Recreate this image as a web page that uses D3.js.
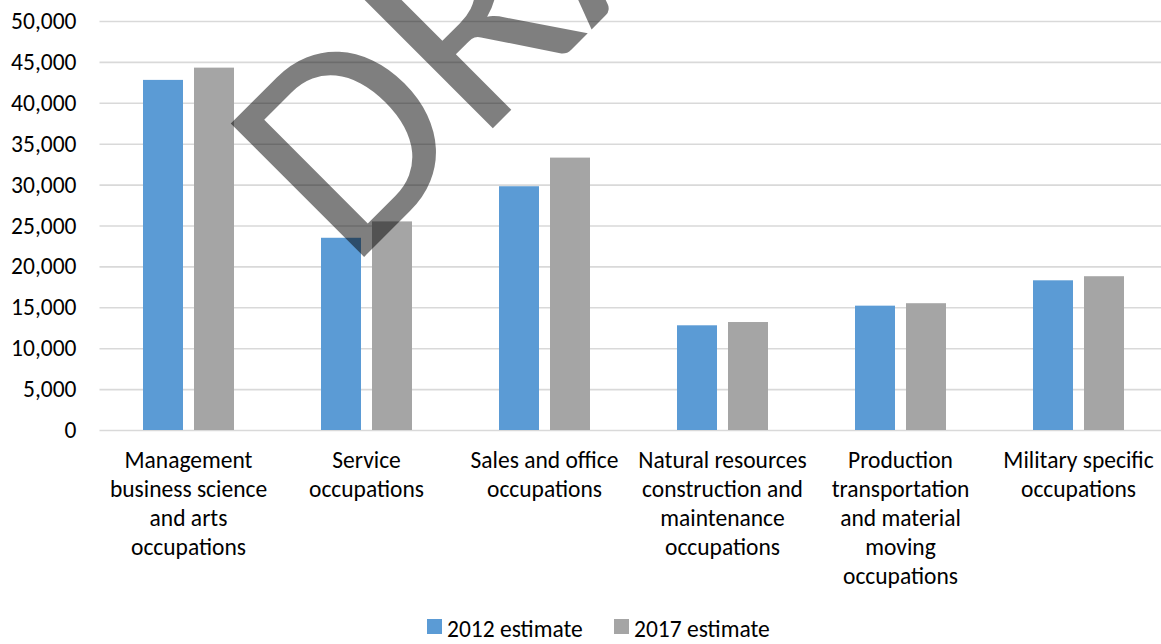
<!DOCTYPE html>
<html>
<head>
<meta charset="utf-8">
<script src="https://cdn.jsdelivr.net/npm/d3@7"></script>
<style>
  html, body { margin: 0; padding: 0; background: #fff; }
  svg { display: block; }
</style>
</head>
<body>
<div id="container"><svg></svg></div>
<script>
// chart values
const categories = ['Management', 'Service', 'Sales', 'Natural', 'Production', 'Military'];
const categoryLabels = [
    ['Management', 'business science', 'and arts', 'occupations'],
    ['Service', 'occupations'],
    ['Sales and office', 'occupations'],
    ['Natural resources', 'construction and', 'maintenance', 'occupations'],
    ['Production', 'transportation', 'and material', 'moving', 'occupations'],
    ['Military specific', 'occupations']
];
const seriesNames = ['2012 estimate', '2017 estimate'];
const est2012 = [42800, 23500, 29800, 12800, 15200, 18300];
const est2017 = [44300, 25500, 33300, 13200, 15500, 18800];
const yTicks = [0, 5000, 10000, 15000, 20000, 25000, 30000, 35000, 40000, 45000, 50000];

let width = 1161;
let height = 644;
let fontFamily = "Carlito, Calibri, Lato, sans-serif";
let fontSize = '23.5px';
let colors = ['#5b9bd5', '#a5a5a5'];

function draw_main() {
    let svg = d3.select('#container').select('svg')
        .attr('width', width)
        .attr('height', height)
        .style('font-family', fontFamily);

    let plotLeft = 99.5;
    let x = d3.scaleBand()
        .domain(categories)
        .range([plotLeft, plotLeft + 6 * 178]);
    let bw = x.bandwidth();
    let x1 = d3.scaleBand()
        .domain(seriesNames)
        .range([bw * 43.5 / 178, bw * 134.5 / 178])
        .paddingInner(0.2157);

    let y = d3.scaleLinear()
        .domain([0, 50000])
        .range([430, 21]);

    // gridlines + y labels
    let axis_y = d3.axisLeft(y)
        .tickValues(yTicks)
        .tickSize(-(width - plotLeft))
        .tickPadding(23)
        .tickFormat(d3.format(','));
    let gy = svg.append('g')
        .attr('transform', `translate(${plotLeft}, 0)`)
        .call(axis_y);
    gy.select('.domain').remove();
    gy.selectAll('line').attr('stroke', '#d9d9d9').attr('stroke-width', 1.6);
    gy.selectAll('text')
        .attr('font-family', fontFamily)
        .attr('font-size', fontSize)
        .attr('fill', '#000');

    // bars
    let rows = categories.map((c, i) => ({ cat: c, vals: [est2012[i], est2017[i]] }));
    svg.append('g')
        .selectAll('g')
        .data(rows)
        .enter().append('g')
        .attr('transform', d => `translate(${x(d.cat)}, 0)`)
        .selectAll('rect')
        .data(d => d.vals.map((v, j) => ({ name: seriesNames[j], v: v, j: j })))
        .enter().append('rect')
        .attr('x', d => x1(d.name))
        .attr('width', x1.bandwidth())
        .attr('y', d => y(d.v))
        .attr('height', d => y(0) - y(d.v))
        .attr('fill', d => colors[d.j]);

    // category labels
    let gx = svg.append('g');
    categories.forEach((c, i) => {
        let t = gx.append('text')
            .attr('text-anchor', 'middle')
            .attr('font-size', fontSize)
            .attr('fill', '#000')
            .attr('transform', `translate(${x(c) + bw / 2}, 468)`);
        categoryLabels[i].forEach((line, k) => {
            t.append('tspan')
                .attr('x', 0)
                .attr('y', k * 29)
                .text(line);
        });
    });

    // legend
    let legendX = [427, 614];
    let lg = svg.append('g');
    seriesNames.forEach((s, j) => {
        lg.append('rect')
            .attr('x', legendX[j])
            .attr('y', 619)
            .attr('width', 15)
            .attr('height', 15)
            .attr('fill', colors[j]);
        lg.append('text')
            .attr('x', legendX[j] + 20)
            .attr('y', 637)
            .attr('font-size', fontSize)
            .attr('fill', '#000')
            .text(s);
    });

    // watermark
    svg.append('text')
        .attr('transform', 'translate(350, 271) rotate(-45)')
        .attr('font-family', fontFamily)
        .attr('font-size', '294px')
        .attr('fill', '#000')
        .attr('fill-opacity', 0.5)
        .text('DRAFT');
}

draw_main();
</script>
</body>
</html>
